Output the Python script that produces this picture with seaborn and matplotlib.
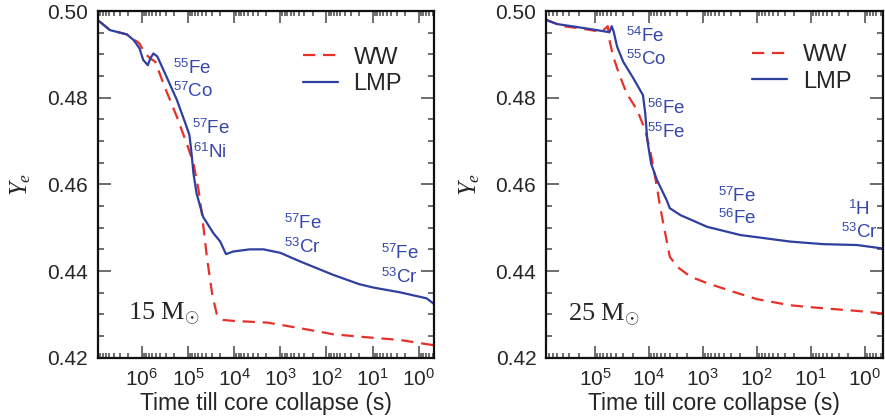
import numpy as np
import pandas as pd
import matplotlib
matplotlib.use("Agg")
import matplotlib.pyplot as plt
import seaborn as sns
from matplotlib.ticker import (LogLocator, MultipleLocator, FormatStrFormatter,
                               NullFormatter, FixedLocator, LogFormatterSciNotation)

# ---------------- data ----------------
# 15 Msun panel
t15_lmp = [8.7e6, 4.9e6, 2.1e6, 1.5e6, 1.12e6, 9.3e5, 7.4e5, 6.5e5, 5.6e5, 4.6e5,
           2.9e5, 1.74e5, 1.07e5, 9.3e4, 8.5e4, 7.6e4, 6.5e4, 4.7e4, 2.8e4, 2.0e4,
           1.5e4, 1.05e4, 4.6e3, 2.3e3, 1.0e3, 3.7e2, 71, 20, 9.8, 2.6, 0.68, 0.47]
ye15_lmp = [0.4978, 0.4956, 0.4946, 0.4933, 0.4914, 0.4887, 0.4875, 0.4891, 0.4902, 0.4895,
            0.4848, 0.4795, 0.4733, 0.4714, 0.4679, 0.4625, 0.4579, 0.4525, 0.4487, 0.4468,
            0.4439, 0.4445, 0.4450, 0.4450, 0.4442, 0.4422, 0.4391, 0.4370, 0.4362, 0.4351,
            0.4337, 0.4324]
t15_ww = [8.7e6, 4.9e6, 2.1e6, 1.5e6, 1.12e6, 8.5e5, 6.6e5, 5.1e5, 3.2e5, 1.74e5,
          1.07e5, 7.6e4, 5.9e4, 5.0e4, 3.9e4, 3.0e4, 2.4e4, 1.7e4, 1.05e4, 1.9e3,
          3.7e2, 71, 13, 2.6, 0.49]
ye15_ww = [0.4978, 0.4956, 0.4946, 0.4935, 0.4925, 0.4902, 0.4891, 0.4883, 0.4825, 0.4756,
           0.4695, 0.4649, 0.4587, 0.4533, 0.4433, 0.4348, 0.4302, 0.4287, 0.4285, 0.4281,
           0.4268, 0.4254, 0.4247, 0.4241, 0.4229]

# 25 Msun panel
t25_lmp = [7.9e5, 5.1e5, 1.9e5, 9.3e4, 5.4e4, 4.9e4, 4.5e4, 3.9e4, 3.0e4, 1.95e4,
           1.29e4, 1.17e4, 1.07e4, 9.1e3, 7.1e3, 4.7e3, 4.1e3, 2.6e3, 8.3e2, 2.0e2,
           98, 24, 5.8, 1.38, 0.46]
ye25_lmp = [0.4979, 0.4970, 0.4962, 0.4956, 0.4951, 0.4965, 0.4952, 0.4918, 0.4883, 0.4845,
            0.4806, 0.4764, 0.4702, 0.4648, 0.4610, 0.4564, 0.4545, 0.4529, 0.4502, 0.4483,
            0.4478, 0.4468, 0.4462, 0.4460, 0.4452]
t25_ww = [7.9e5, 3.9e5, 1.9e5, 7.6e4, 5.8e4, 5.4e4, 4.6e4, 3.7e4, 2.6e4, 1.66e4,
          1.17e4, 9.5e3, 7.1e3, 6.2e3, 4.7e3, 4.1e3, 3.0e3, 1.7e3, 8.3e2, 2.7e2,
          98, 24, 5.8, 1.38, 0.46]
ye25_ww = [0.4979, 0.4965, 0.4960, 0.4952, 0.4965, 0.4933, 0.4895, 0.4860, 0.4810, 0.4772,
           0.4725, 0.4679, 0.4594, 0.4548, 0.4471, 0.4433, 0.4410, 0.4387, 0.4372, 0.4352,
           0.4335, 0.4321, 0.4314, 0.4308, 0.4302]

series_names = ["WW", "LMP"]
panel_titles = ["15 M$_{\\odot}$", "25 M$_{\\odot}$"]
ann15 = ["$^{55}$Fe", "$^{57}$Co", "$^{57}$Fe", "$^{61}$Ni", "$^{57}$Fe", "$^{53}$Cr",
         "$^{57}$Fe", "$^{53}$Cr"]
ann25 = ["$^{54}$Fe", "$^{55}$Co", "$^{56}$Fe", "$^{55}$Fe", "$^{57}$Fe", "$^{56}$Fe",
         "$^{1}$H", "$^{53}$Cr"]
yticks = [0.42, 0.44, 0.46, 0.48, 0.50]
xticks15 = [1e0, 1e1, 1e2, 1e3, 1e4, 1e5, 1e6]
xticks25 = [1e0, 1e1, 1e2, 1e3, 1e4, 1e5]

# ---------------- style ----------------
sns.set_theme(style="ticks")
plt.rcParams["font.family"] = ["Liberation Sans", "DejaVu Sans"]
plt.rcParams["mathtext.fontset"] = "custom"
plt.rcParams["mathtext.rm"] = "Liberation Sans"
plt.rcParams["mathtext.sf"] = "Liberation Sans"
plt.rcParams["mathtext.it"] = "Liberation Serif:italic"
plt.rcParams["mathtext.bf"] = "Liberation Sans:bold"

RED = "#e8302a"
BLUE = "#2f3f9f"
TXT_BLUE = "#3547ad"

fig = plt.figure(figsize=(8.85, 4.19), dpi=100)
ax1 = fig.add_axes([0.1104, 0.1463, 0.3800, 0.8274])
ax2 = fig.add_axes([0.6170, 0.1463, 0.3804, 0.8274])


def draw(ax, t_ww, y_ww, t_lmp, y_lmp, xlim, xticks):
    df_ww = pd.DataFrame({"t": t_ww, "ye": y_ww})
    df_lmp = pd.DataFrame({"t": t_lmp, "ye": y_lmp})
    sns.lineplot(data=df_ww, x="t", y="ye", ax=ax, color=RED, lw=1.6,
                 linestyle=(0, (5.5, 3.5)), label=series_names[0])
    sns.lineplot(data=df_lmp, x="t", y="ye", ax=ax, color=BLUE, lw=1.6,
                 label=series_names[1])
    ax.set_xscale("log")
    ax.set_xlim(*xlim)
    ax.set_ylim(0.42, 0.50)
    ax.set_yticks(yticks)
    ax.yaxis.set_major_formatter(FormatStrFormatter("%.2f"))
    ax.yaxis.set_minor_locator(MultipleLocator(0.005))
    ax.xaxis.set_major_locator(FixedLocator(xticks))
    ax.xaxis.set_major_formatter(LogFormatterSciNotation())
    ax.xaxis.set_minor_locator(LogLocator(base=10, subs=np.arange(2, 10), numticks=20))
    ax.xaxis.set_minor_formatter(NullFormatter())
    ax.tick_params(which="both", direction="in", top=True, right=True,
                   width=1.2, color="#555555", labelsize=15, pad=7)
    ax.tick_params(axis="y", which="major", length=9.5)
    ax.tick_params(axis="y", which="minor", length=4.3)
    ax.tick_params(axis="x", which="major", length=8.5)
    ax.tick_params(axis="x", which="minor", length=3.8)
    for s in ax.spines.values():
        s.set_linewidth(1.6)
        s.set_color("#111111")
    ax.set_xlabel("Time till core collapse (s)", fontsize=16.5, labelpad=2)
    ax.set_ylabel("$Y_e$", fontsize=18, labelpad=10)


draw(ax1, t15_ww, ye15_ww, t15_lmp, ye15_lmp, (9.0e6, 0.47), xticks15)
draw(ax2, t25_ww, ye25_ww, t25_lmp, ye25_lmp, (8.1e5, 0.46), xticks25)

# legends
for ax, x0, y0 in [(ax1, 0.61, 0.897), (ax2, 0.612, 0.905)]:
    ax.legend(loc="upper left", bbox_to_anchor=(x0, y0), frameon=False,
              fontsize=17, handlelength=1.5, handletextpad=0.65,
              labelspacing=0.2, borderpad=0, borderaxespad=0)

# annotations (axes fraction positions)
pos15 = [(0.224, 0.836, "left"), (0.224, 0.769, "left"), (0.280, 0.663, "left"),
         (0.283, 0.593, "left"), (0.554, 0.389, "left"), (0.554, 0.319, "left"),
         (0.842, 0.302, "left"), (0.842, 0.233, "left")]
pos25 = [(0.237, 0.926, "left"), (0.237, 0.862, "left"), (0.301, 0.718, "left"),
         (0.301, 0.650, "left"), (0.510, 0.467, "left"), (0.510, 0.403, "left"),
         (0.962, 0.429, "right"), (0.985, 0.363, "right")]
for ax, labels, pos in [(ax1, ann15, pos15), (ax2, ann25, pos25)]:
    for lab, (x, y, ha) in zip(labels, pos):
        ax.text(x, y, lab, transform=ax.transAxes, ha=ha, va="center",
                fontsize=13.5, color=TXT_BLUE)

ax1.text(0.089, 0.109, panel_titles[0], transform=ax1.transAxes, ha="left",
         va="baseline", fontsize=19, family=["Liberation Serif", "DejaVu Serif"])
ax2.text(0.064, 0.106, panel_titles[1], transform=ax2.transAxes, ha="left",
         va="baseline", fontsize=19, family=["Liberation Serif", "DejaVu Serif"])

fig.savefig("out.png", dpi=100)
